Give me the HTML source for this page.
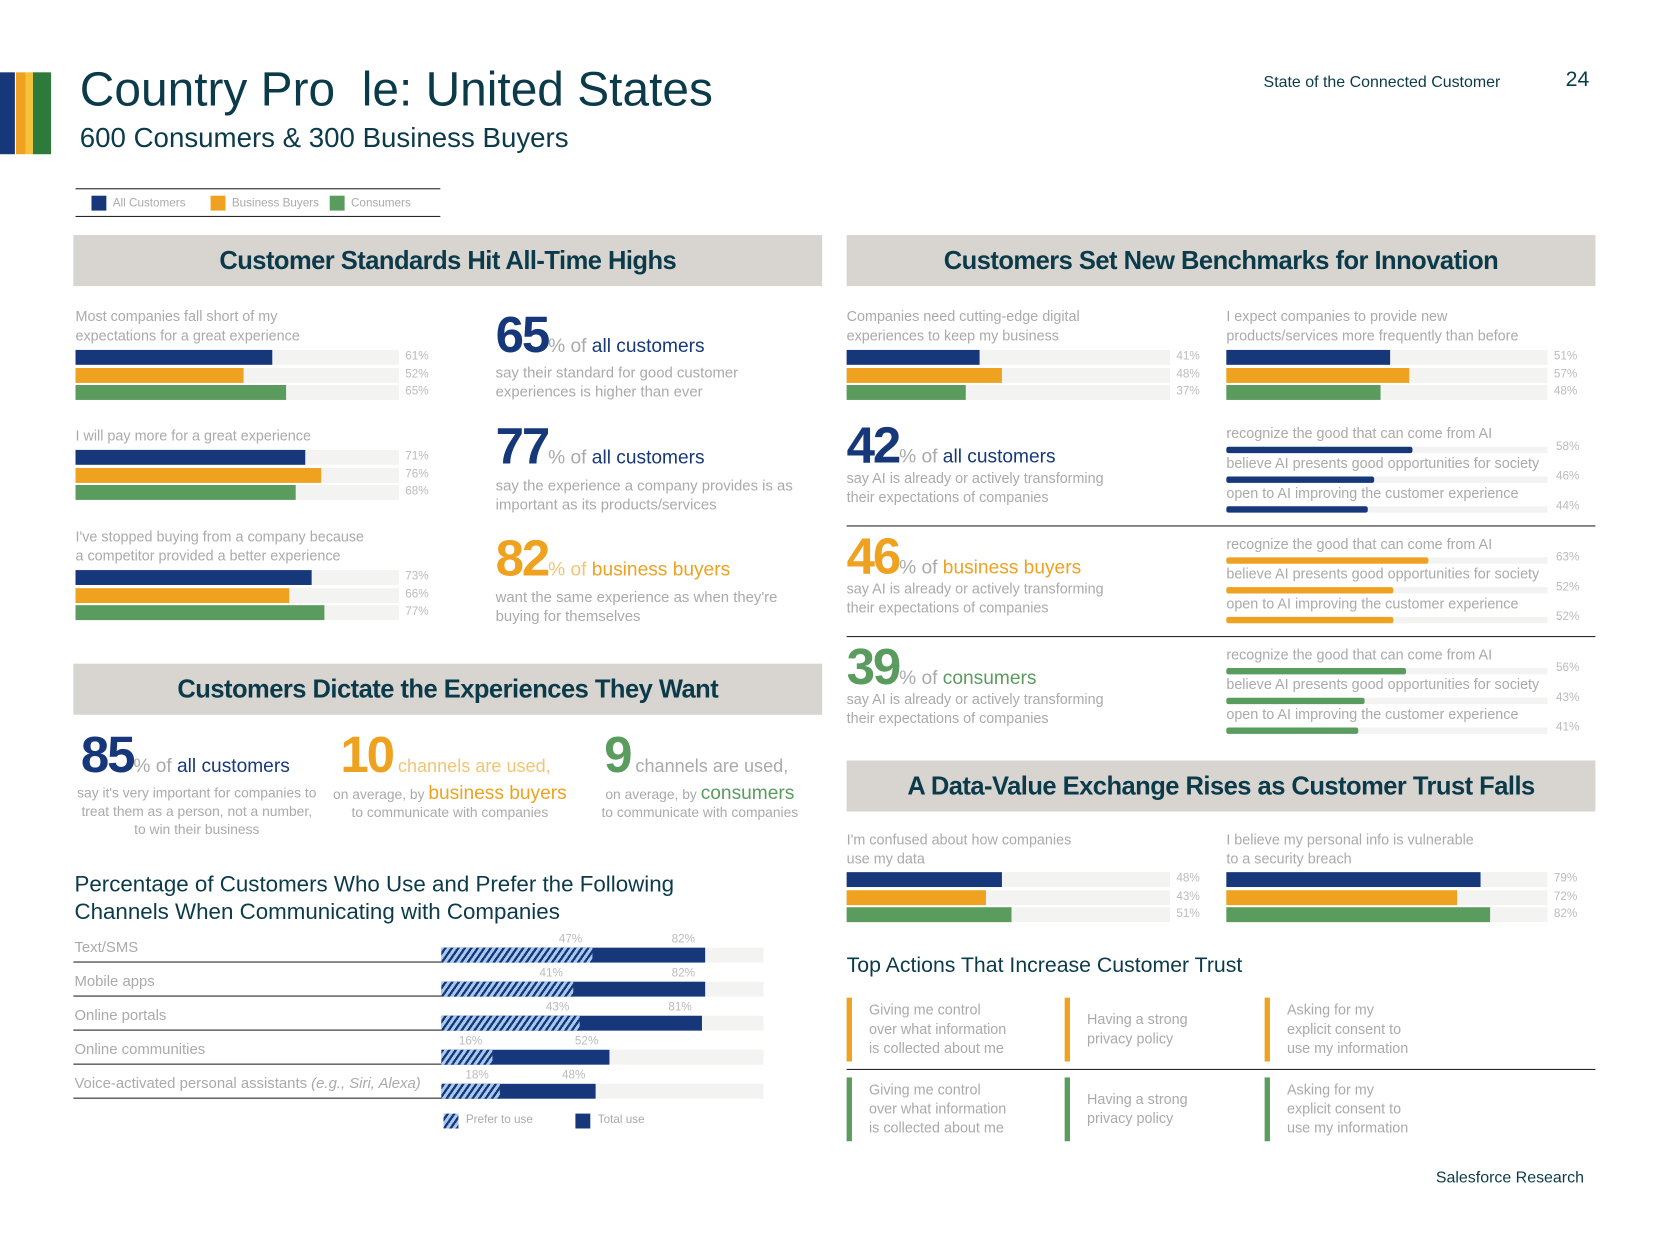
<!DOCTYPE html>
<html><head><meta charset="utf-8"><style>
*{margin:0;padding:0;box-sizing:border-box}
body{width:1667px;height:1250px;background:#fff;overflow:hidden;font-family:"Liberation Sans",sans-serif}
#w{position:absolute;left:0;top:0;width:1550px;height:1162px;transform:scale(1.0636);transform-origin:0 0}
.a{position:absolute;white-space:nowrap}
.g{color:#aaa;font-weight:300}
.hd{position:absolute;background:#d8d4cf;color:#0b3a4a;font-weight:bold;font-size:24px;text-align:center;letter-spacing:-0.5px}
.trk{position:absolute;background:#f3f3f2}
.bar{position:absolute;left:0;top:0;height:100%}
.v{position:absolute;font-size:11px;color:#bbb}
.big{font-weight:bold;letter-spacing:-2px}
</style></head><body><div id="w">
<div class="a" style="left:0;top:68px;width:14px;height:77px;background:#16387a"></div>
<div class="a" style="left:15px;top:68px;width:9px;height:77px;background:#eea220"></div>
<div class="a" style="left:24px;top:68px;width:7px;height:77px;background:#f5c23b"></div>
<div class="a" style="left:31px;top:68px;width:17px;height:77px;background:#2e7a3a"></div>
<div class="a" style="left:75px;top:58px;font-size:45px;color:#0b3a4a">Country Pro&nbsp;&nbsp;le: United States</div>
<div class="a" style="left:75px;top:114px;font-size:26px;color:#0b3a4a">600 Consumers &amp; 300 Business Buyers</div>
<div class="a" style="left:1188px;top:69px;font-size:15px;color:#0b3a4a">State of the Connected Customer</div>
<div class="a" style="left:1472px;top:64px;font-size:20px;color:#0b3a4a">24</div>
<div class="a" style="left:71px;top:177px;width:343px;height:27px;border-top:1px solid #222;border-bottom:1px solid #222">
<span class="a" style="left:15px;top:6px;width:14px;height:14px;background:#16387a"></span><span class="a g" style="left:35px;top:7px;font-size:11px">All Customers</span>
<span class="a" style="left:127px;top:6px;width:14px;height:14px;background:#eea220"></span><span class="a g" style="left:147px;top:7px;font-size:11px">Business Buyers</span>
<span class="a" style="left:239px;top:6px;width:14px;height:14px;background:#5a9b5e"></span><span class="a g" style="left:259px;top:7px;font-size:11px">Consumers</span></div>
<div class="hd" style="left:69px;top:221px;width:704px;height:48px;line-height:50px">Customer Standards Hit All-Time Highs</div>
<div class="hd" style="left:796px;top:221px;width:704px;height:48px;line-height:50px">Customers Set New Benchmarks for Innovation</div>
<div class="hd" style="left:69px;top:624px;width:704px;height:48px;line-height:50px">Customers Dictate the Experiences They Want</div>
<div class="hd" style="left:796px;top:715px;width:704px;height:48px;line-height:50px">A Data-Value Exchange Rises as Customer Trust Falls</div>

<div class="a" style="left:466px;top:288px;color:#16387a"><span class="big" style="font-size:48px">65</span><span class="g" style="font-size:18px">% of </span><span style="font-size:18px">all customers</span></div>
<div class="a g" style="left:466px;top:341px;font-size:14px;line-height:18px">say their standard for good customer<br>experiences is higher than ever</div>
<div class="a" style="left:466px;top:393px;color:#16387a"><span class="big" style="font-size:48px">77</span><span class="g" style="font-size:18px">% of </span><span style="font-size:18px">all customers</span></div>
<div class="a g" style="left:466px;top:447px;font-size:14px;line-height:18px">say the experience a company provides is as<br>important as its products/services</div>
<div class="a" style="left:466px;top:498px;color:#eea220"><span class="big" style="font-size:48px">82</span><span class="g" style="font-size:18px;color:#f2c575">% of </span><span style="font-size:18px">business buyers</span></div>
<div class="a g" style="left:466px;top:552px;font-size:14px;line-height:18px">want the same experience as when they're<br>buying for themselves</div>

<div class="a" style="left:76px;top:683px;color:#16387a"><span class="big" style="font-size:48px">85</span><span class="g" style="font-size:18px">% of </span><span style="font-size:18px">all customers</span></div>
<div class="a g" style="left:70px;top:737px;width:230px;text-align:center;font-size:13px;line-height:17px;white-space:normal">say it's very important for companies to treat them as a person, not a number, to win their business</div>
<div class="a" style="left:320px;top:683px;color:#eea220"><span class="big" style="font-size:48px">10</span><span class="g" style="font-size:17px;color:#f2c575"> channels are used,</span></div>
<div class="a g" style="left:308px;top:737px;width:230px;text-align:center;font-size:13px;line-height:17px">on average, by <span style="color:#eea220;font-size:18px;font-weight:normal">business buyers</span><br>to communicate with companies</div>
<div class="a" style="left:568px;top:683px;color:#5a9b5e"><span class="big" style="font-size:48px">9</span><span class="g" style="font-size:17px"> channels are used,</span></div>
<div class="a g" style="left:543px;top:737px;width:230px;text-align:center;font-size:13px;line-height:17px">on average, by <span style="color:#5a9b5e;font-size:18px;font-weight:normal">consumers</span><br>to communicate with companies</div>

<div class="a" style="left:70px;top:819px;font-size:21px;line-height:26px;color:#0b3a4a">Percentage of Customers Who Use and Prefer the Following<br>Channels When Communicating with Companies</div>

<div class="a" style="left:796px;top:897px;font-size:20px;color:#0b3a4a">Top Actions That Increase Customer Trust</div>
<div class="a" style="left:796px;top:1005px;width:704px;height:1px;background:#222"></div>
<div class="a" style="left:1350px;top:1099px;font-size:15px;color:#0b3a4a">Salesforce Research</div>
<div class="a" style="left:796px;top:494px;width:704px;height:1px;background:#222"></div>
<div class="a" style="left:796px;top:598px;width:704px;height:1px;background:#222"></div>
</div>
<script>
const W=document.getElementById('w');
const COL=['#16387a','#eea220','#5a9b5e'];
function el(cls,css,txt){const d=document.createElement('div');d.className=cls;d.style.cssText=css;if(txt!=null)d.innerHTML=txt;W.appendChild(d);return d;}

const stdLabels=['Most companies fall short of my<br>expectations for a great experience','I will pay more for a great experience','I\'ve stopped buying from a company because<br>a competitor provided a better experience'];
const stdValues=[[61,52,65],[71,76,68],[73,66,77]];
const innoLabels=['Companies need cutting-edge digital<br>experiences to keep my business','I expect companies to provide new<br>products/services more frequently than before'];
const innoValues=[[41,48,37],[51,57,48]];
const trustLabels=['I\'m confused about how companies<br>use my data','I believe my personal info is vulnerable<br>to a security breach'];
const trustValues=[[48,43,51],[79,72,82]];

function group(x,labelY,barY,w,label,vals,name){
  const l=el('a g',`left:${x}px;top:${labelY}px;font-size:13.5px;line-height:18px`,label);
  
  
  vals.forEach((v,i)=>{
    const t=el('trk',`left:${x}px;top:${barY+i*16.5}px;width:${w}px;height:14px`);
    
    
    const b=document.createElement('div');b.className='bar';b.style.width=(v/100*w)+'px';b.style.background=COL[i];t.appendChild(b);
    
    
    const vl=el('v',`left:${x+w+6}px;top:${barY+i*16.5}px`,v+'%');
    
    
  });
}
const stdY=[[289,329],[401,423],[496,536]];
stdValues.forEach((v,i)=>group(71,stdY[i][0],stdY[i][1],304,stdLabels[i],v,'standards-'+i));
group(796,289,329,304,innoLabels[0],innoValues[0],'innovation-0');
group(1153,289,329,302,innoLabels[1],innoValues[1],'innovation-1');
group(796,781,820,304,trustLabels[0],trustValues[0],'trust-0');
group(1153,781,820,302,trustLabels[1],trustValues[1],'trust-1');

const aiBig=[42,46,39];
const aiWho=['all customers','business buyers','consumers'];
const aiItems=['recognize the good that can come from AI','believe AI presents good opportunities for society','open to AI improving the customer experience'];
const aiValues=[[58,46,44],[63,52,52],[56,43,41]];
aiBig.forEach((n,s)=>{
  const y0=392+s*104;const c=COL[s];
  const h=el('a',`left:796px;top:${y0}px;color:${c}`,`<span class="big" style="font-size:48px">${n}</span><span class="g" style="font-size:18px">% of </span><span style="font-size:18px">${aiWho[s]}</span>`);
  
  
  const d=el('a g',`left:796px;top:${y0+49}px;font-size:13.5px;line-height:18px`,'say AI is already or actively transforming<br>their expectations of companies');
  
  
  aiValues[s].forEach((v,i)=>{
    const ty=y0+8+i*28;
    const l=el('a g',`left:1153px;top:${ty}px;font-size:13.5px`,aiItems[i]);
    
    
    const t=el('trk',`left:1153px;top:${ty+20}px;width:302px;height:6px`);
    
    
    const b=document.createElement('div');b.className='bar';b.style.width=(v/100*302)+'px';b.style.background=c;b.style.borderRadius='2px';t.appendChild(b);
    
    
    const vl=el('v',`left:1463px;top:${ty+14}px`,v+'%');
    
    
  });
});

const chCats=['Text/SMS','Mobile apps','Online portals','Online communities','Voice-activated personal assistants <i>(e.g., Siri, Alexa)</i>'];
const chPrefer=[47,41,43,16,18];
const chTotal=[82,82,81,52,48];
const cx0=415,cw=303;
const xs=v=>v/100*cw;
const hatch='repeating-linear-gradient(-55deg,#16387a 0 2.2px,#a9c8ee 2.2px 5px)';
chCats.forEach((c,i)=>{
  const y=891+i*32;
  const l=el('a g',`left:70px;top:${y-9}px;font-size:14px`,c);
  
  
  const ln=el('a',`left:69px;top:${y+13}px;width:346px;height:1px;background:#222`);
  
  
  const t=el('trk',`left:${cx0}px;top:${y}px;width:${cw}px;height:14px`);
  
  
  const tb=el('a',`left:${cx0}px;top:${y}px;width:${xs(chTotal[i])}px;height:14px;background:#16387a`);
  
  
  const pb=el('a',`left:${cx0}px;top:${y}px;width:${xs(chPrefer[i])}px;height:14px;background:${hatch}`);
  
  
  const pv=el('v',`left:${cx0+xs(chPrefer[i])-32}px;top:${y-14}px`,chPrefer[i]+'%');
  
  
  const tv=el('v',`left:${cx0+xs(chTotal[i])-32}px;top:${y-14}px`,chTotal[i]+'%');
  
  
});
const lg1=el('a',`left:417px;top:1047px;width:14px;height:14px;background:${hatch}`);


const lg1t=el('a g',`left:438px;top:1047px;font-size:11px`,'Prefer to use');


const lg2=el('a',`left:541px;top:1047px;width:14px;height:14px;background:#16387a`);


const lg2t=el('a g',`left:562px;top:1047px;font-size:11px`,'Total use');



const actText=['Giving me control<br>over what information<br>is collected about me','Having a strong<br>privacy policy','Asking for my<br>explicit consent to<br>use my information'];
const actX=[796,1001,1189];
[['#eea220',938],['#5a9b5e',1013]].forEach(([c,y],r)=>{
  actText.forEach((t,i)=>{
    const bar=el('a',`left:${actX[i]}px;top:${y}px;width:5px;height:60px;background:${c}`);
    
    
    const lines=t.split('<br>').length;
    const tx=el('a g',`left:${actX[i]+21}px;top:${y+30-lines*9}px;font-size:13.5px;line-height:18px`,t);
    
    
  });
});
</script></body></html>
